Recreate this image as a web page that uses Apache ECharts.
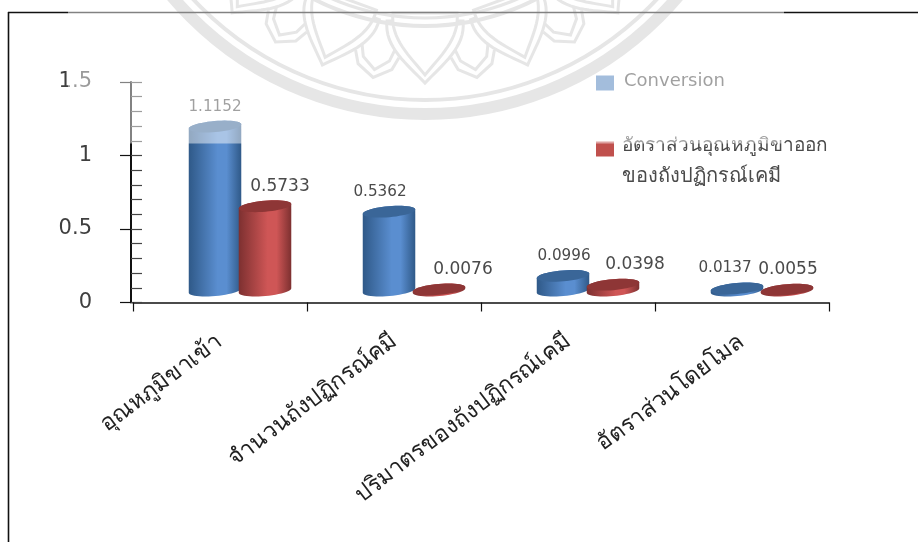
<!DOCTYPE html>
<html><head><meta charset="utf-8">
<style>html,body{margin:0;padding:0;background:#fff}#c{width:918px;height:542px}</style>
<script src="https://cdn.jsdelivr.net/npm/echarts@6/dist/echarts.min.js"></script>
</head><body><div id="c"></div>
<script>
const categories = ['อุณหภูมิขาเข้า', 'จำนวนถังปฏิกรณ์คมี', 'ปริมาตรของถังปฏิกรณ์เคมี', 'อัตราส่วนโดยโมล'];
const conversion = [1.1152, 0.5362, 0.0996, 0.0137];
const outletRatio = [0.5733, 0.0076, 0.0398, 0.0055];
const seriesNames = ['Conversion', 'อัตราส่วนอุณหภูมิขาออก'];
const legendSecondLine = 'ของถังปฏิกรณ์เคมี';

const FONT = '"DejaVu Sans", "Noto Sans", sans-serif';
const blueLook = {edge:'#2f5988', mid:'#5a8ed0', top:'#3a6698', label:15.2, dx:-25, shift:[0,-9,1,-12]};
const redLook = {edge:'#7d3030', mid:'#cf5656', top:'#8e3636', label:17, dx:25, shift:[15,24,22,1]};

function ringPoints(cx, cy, rx, ry, from, to, n) {
  const rot = -5 * Math.PI / 180, out = [];
  for (let k = 0; k <= n; k++) {
    const t = from + (to - from) * k / n;
    const x = rx * Math.cos(t), y = ry * Math.sin(t);
    out.push([cx + x * Math.cos(rot) - y * Math.sin(rot), cy + x * Math.sin(rot) + y * Math.cos(rot)]);
  }
  return out;
}
function cylinder(look) {
  return function (params, api) {
    const i = api.value(0), v = api.value(1);
    const p = api.coord([i, v]), b = api.coord([i, 0]);
    const band = api.size([1, 0])[0];
    const w = band * 0.303, cx = p[0] + band * 0.115 + look.dx;
    const lift = 12, topY = p[1] - lift, botY = b[1] - lift, ry = 5.5;
    const body = ringPoints(cx, botY, w / 2, ry, Math.PI, 0, 24)
      .concat(ringPoints(cx, topY, w / 2, ry, 0, -Math.PI, 24));
    const cap = ringPoints(cx, topY, w / 2, ry, 0, Math.PI * 2, 48);
    return {type: 'group', children: [
      {type: 'polygon', shape: {points: body}, style: {fill: new echarts.graphic.LinearGradient(0, 0, 1, 0, [
        {offset: 0, color: look.edge}, {offset: 0.55, color: look.mid}, {offset: 0.72, color: look.mid}, {offset: 1, color: look.edge}])}},
      {type: 'polygon', shape: {points: cap}, style: {fill: look.top}},
      {type: 'text', style: {text: v.toFixed(4), x: cx + look.shift[i], y: topY - 20, align: 'center', verticalAlign: 'middle',
        fill: '#4a4a4a', font: look.label + 'px ' + FONT}}
    ]};
  };
}

// Watermark emblem (decoration only)
const EC = [425, -217];
const EMBLEM = '#cfcfcf';
function emblemPoint(deg, u, r) {
  const a = deg * Math.PI / 180;
  return [EC[0] + r * Math.sin(a) + u * Math.cos(a), EC[1] + r * Math.cos(a) - u * Math.sin(a)];
}
function curve(deg, pts) {
  const out = [];
  for (let s = 0; s + 3 < pts.length; s += 3) {
    for (let k = 0; k <= 16; k++) {
      const t = k / 16, m = 1 - t;
      const f = j => m*m*m*pts[s][j] + 3*m*m*t*pts[s+1][j] + 3*m*t*t*pts[s+2][j] + t*t*t*pts[s+3][j];
      out.push(emblemPoint(deg, f(0), f(1)));
    }
  }
  return out;
}
const emblem = [];
[-50, -30, -10, 10, 30, 50].forEach(d => {
  [[299, 22], [291, 17]].forEach(([tip, hw]) => {
    emblem.push({type: 'polyline', z: 1, silent: true, style: {stroke: EMBLEM, lineWidth: 3, fill: 'none'}, shape: {points: [
      emblemPoint(d, -hw, tip - 24), emblemPoint(d, -hw * 0.78, tip - 11), emblemPoint(d, 0, tip), emblemPoint(d, hw * 0.78, tip - 11), emblemPoint(d, hw, tip - 24)]}});
  });
});
[-60, -40, -20, 0, 20, 40, 60].forEach(d => {
  [[300, 38], [292, 32]].forEach(([tip, hw]) => {
    const outline = [[-hw, tip - 62], [-hw - 3, tip - 36], [-hw * 0.45, tip - 18], [0, tip], [hw * 0.45, tip - 18], [hw + 3, tip - 36], [hw, tip - 62]];
    emblem.push({type: 'polygon', z: 2, silent: true, style: {stroke: EMBLEM, lineWidth: 3, fill: '#fff'}, shape: {points: curve(d, outline)}});
  });
});
[[331, 12], [317, 4], [243, 4], [235, 3]].forEach(([r, lw]) => {
  emblem.push({type: 'circle', z: 3, shape: {cx: EC[0], cy: EC[1], r}, style: {stroke: EMBLEM, lineWidth: lw, fill: 'none'}, silent: true});
});

const chart = echarts.init(document.getElementById('c'), null, {renderer: 'canvas'});
chart.setOption({
  animation: false,
  backgroundColor: '#fff',
  grid: {left: 133, width: 696, top: 82, height: 220.5, containLabel: false},
  legend: {
    left: 591, top: 67, orient: 'vertical', itemWidth: 18, itemHeight: 15, itemGap: 46, icon: 'rect',
    data: seriesNames,
    formatter: name => name === seriesNames[0] ? '{en|' + name + '}' : '{th|' + name + '}',
    textStyle: {fontFamily: FONT, color: '#4a4a4a', rich: {
      en: {fontFamily: FONT, fontSize: 18, color: '#4a4a4a', padding: [0, 0, 4, 5]},
      th: {fontFamily: FONT, fontSize: 19, color: '#4a4a4a', padding: [0, 0, 6, 3]}
    }}
  },
  xAxis: {
    type: 'category', data: categories, boundaryGap: true,
    axisLine: {lineStyle: {color: '#111', width: 1.5}},
    axisTick: {show: true, alignWithLabel: false, length: 9, lineStyle: {color: '#111', width: 1.2}},
    axisLabel: {rotate: 37, interval: 0, margin: 37, fontFamily: FONT, fontSize: 23, color: '#222'}
  },
  yAxis: [
    {type: 'value', min: 0, max: 1.5, interval: 0.5, offset: 2,
      axisLine: {show: true, lineStyle: {color: '#111', width: 2}},
      axisTick: {show: true, length: 11, lineStyle: {color: '#111', width: 1.2}},
      axisLabel: {margin: 39, fontFamily: FONT, fontSize: 21, color: '#3f3f3f'},
      splitLine: {show: false}},
    {type: 'value', position: 'left', min: 0, max: 1.5, interval: 0.1, offset: 2,
      axisLine: {show: false},
      axisTick: {show: true, inside: true, length: 11, lineStyle: {color: '#444', width: 1.2}},
      axisLabel: {show: false},
      splitLine: {show: false}}
  ],
  series: [
    {name: seriesNames[0], type: 'custom', xAxisIndex: 0, yAxisIndex: 0, z: 5, itemStyle: {color: '#4f81bd'},
      data: conversion.map((v, i) => [i, v]), renderItem: cylinder(blueLook), encode: {x: 0, y: 1}},
    {name: seriesNames[1], type: 'custom', xAxisIndex: 0, yAxisIndex: 0, z: 6, itemStyle: {color: '#c0504d'},
      data: outletRatio.map((v, i) => [i, v]), renderItem: cylinder(redLook), encode: {x: 0, y: 1}}
  ],
  graphic: {elements: emblem.concat([
    {type: 'line', z: 50, shape: {x1: 8.5, y1: 12, x2: 8.5, y2: 542}, style: {stroke: '#111', lineWidth: 1.6}, silent: true},
    {type: 'line', z: 50, shape: {x1: 8, y1: 12.5, x2: 918, y2: 12.5}, style: {stroke: '#111', lineWidth: 1.5}, silent: true},
    {type: 'text', z: 50, style: {text: legendSecondLine, x: 622, y: 177, verticalAlign: 'middle', fill: '#4a4a4a', font: '20px ' + FONT}, silent: true},
    {type: 'rect', z: 100, shape: {x: 68, y: 0, width: 716, height: 143.5}, style: {fill: 'rgba(255,255,255,0.48)'}, silent: true}
  ])}
});
</script></body></html>
